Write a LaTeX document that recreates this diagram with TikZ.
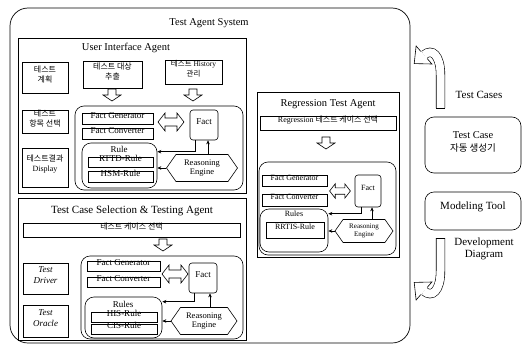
\documentclass[tikz,border=0pt]{standalone}
\usepackage{fontspec}
\setmainfont{Liberation Serif}
\newfontfamily\kr{Noto Sans CJK KR}
\usetikzlibrary{fit,shapes.symbols,arrows.meta}
\begin{document}
\begin{tikzpicture}[x=1pt,y=-1pt,
  bx/.style={draw, line width=0.6pt, inner sep=0pt, align=center, font=\fontsize{9}{10}\selectfont},
  kbx/.style={bx, font=\kr\fontsize{8}{10}\selectfont},
  rbx/.style={bx, rounded corners=9pt},
  ttl/.style={font=\fontsize{10.5}{12}\selectfont},
  sub/.style={font=\fontsize{9}{10}\selectfont},
  hexa/.style={draw, line width=0.6pt, signal, signal to=east and west, signal pointer angle=110, inner sep=0pt, align=center, font=\fontsize{8.5}{9.5}\selectfont},
  con/.style={line width=0.6pt, -{Stealth[length=4pt,width=3.5pt]}},
  blkdown/.pic={\draw[line width=0.6pt, fill=white] (-4,0) -- (-4,6) -- (-9,6) -- (0,12) -- (9,6) -- (4,6) -- (4,0) -- cycle;},
  blkdouble/.pic={\draw[line width=0.6pt, fill=white] (-13,0) -- (-6,-9) -- (-6,-4) -- (6,-4) -- (6,-9) -- (13,0) -- (6,9) -- (6,4) -- (-6,4) -- (-6,9) -- cycle;},
  side/.style={font=\fontsize{11}{12.5}\selectfont, align=center},
]
\useasboundingbox (0,0) rectangle (522,348);

% outer system
\node[draw, line width=0.7pt, rounded corners=18pt, inner sep=0pt, fit={(10,8)(410,343)}] (sys) {};
\node[font=\fontsize{10.5}{12}\selectfont] (syst) at (209,23) {Test Agent System};

% ---------------- User Interface Agent
\node[bx, fit={(18,38)(246,193)}] (ui) {};
\node[ttl] (uit) at (126,48) {User Interface Agent};
\node[kbx, fit={(22,62)(68,93)}] (plan) {테스트\\계획};
\node[kbx, fit={(83,61)(142,88)}] (target) {테스트 대상\\추출};
\node[bx, fit={(165,60)(222,84)}, font=\fontsize{7.5}{10}\selectfont] (hist) {{\kr 테스트} History\\{\kr 관리}};
\node[kbx, fit={(22,110)(68,133)}] (item) {테스트\\항목 선택};
\node[bx, fit={(22,148)(68,187)}, font=\fontsize{8}{10}\selectfont] (result) {{\kr 테스트결과}\\Display};
\pic at (112,89) {blkdown};
\pic at (193,89) {blkdown};
\node[rbx, fit={(75,106)(243,190)}] (kb1) {};
\node[bx, fit={(82,113)(153,124)}] (fg1) {Fact Generator};
\node[bx, fit={(82,128)(153,139)}] (fc1) {Fact Converter};
\pic at (171,122) {blkdouble};
\node[bx, rounded corners=3pt, fit={(190,110)(218,140)}] (fact1) {Fact};
\node[rbx, fit={(82,143)(157,188)}] (rule1) {};
\node[sub] (rule1t) at (119,149) {Rule};
\node[bx, fit={(88,157)(153,167)}] (rttd) {RTTD-Rule};
\node[bx, fit={(88,171)(153,182)}] (hsm) {HSM-Rule};
\node[hexa, minimum width=71pt, minimum height=27pt] (hex1) at (202,168) {Reasoning\\Engine};
\draw[con] ([xshift=6pt]fact1.south west) |- ([yshift=-9pt]rule1.north east);
\draw[con] ([xshift=6pt]hex1.north) -- ([xshift=6pt]hex1.north |- fact1.south);
\draw[con] (hex1.west) -- (hex1.west -| rule1.east);

% ---------------- Test Case Selection & Testing Agent
\node[bx, fit={(18,198)(246,340)}] (tcs) {};
\node[font=\fontsize{11}{12}\selectfont] (tcst) at (132,211) {Test Case Selection \& Testing Agent};
\node[kbx, fit={(23,223)(240,237)}] (sel) {테스트 케이스 선택};
\pic at (163,239) {blkdown};
\node[bx, fit={(23,263)(68,294)}, font=\itshape\fontsize{9}{11}\selectfont] (driver) {Test\\Driver};
\node[bx, fit={(23,305)(68,337)}, font=\itshape\fontsize{9}{11}\selectfont] (oracle) {Test\\Oracle};
\node[rbx, fit={(81,256)(243,339)}] (kb2) {};
\node[bx, fit={(87,261)(160,271)}] (fg2) {Fact Generator};
\node[bx, fit={(87,277)(160,287)}] (fc2) {Fact Converter};
\pic at (175,274) {blkdouble};
\node[bx, rounded corners=3pt, fit={(189,263)(217,293)}] (fact2) {Fact};
\node[rbx, fit={(85,297)(162,338)}] (rule2) {};
\node[sub] (rule2t) at (123,304) {Rules};
\node[bx, fit={(91,312)(157,322)}] (his) {HIS-Rule};
\node[bx, fit={(91,324)(157,334)}] (cis) {CIS-Rule};
\node[hexa, minimum width=66pt, minimum height=27pt] (hex2) at (204,321) {Reasoning\\Engine};
\draw[con] ([xshift=6pt]fact2.south west) |- ([yshift=-5pt]rule2.north east);
\draw[con] ([xshift=6pt]hex2.north) -- ([xshift=6pt]hex2.north |- fact2.south);
\draw[con] (hex2.west) -- (hex2.west -| rule2.east);

% ---------------- Regression Test Agent
\node[bx, fit={(257,92)(399,257)}] (rta) {};
\node[ttl] (rtat) at (328,104) {Regression Test Agent};
\node[bx, fit={(260,116)(396,130)}, font=\fontsize{8}{10}\selectfont] (regsel) {Regression {\kr 테스트 케이스 선택}};
\pic at (326,137) {blkdown};
\node[rbx, fit={(259,162)(396,255)}] (kb3) {};
\node[bx, fit={(262,175)(327,186)}, font=\fontsize{8}{9}\selectfont] (fg3) {Fact Generator};
\node[bx, fit={(262,194)(327,206)}, font=\fontsize{8}{9}\selectfont] (fc3) {Fact Converter};
\pic[scale=0.8] at (340,191) {blkdouble};
\node[bx, rounded corners=3pt, fit={(355,175)(381,207)}, font=\fontsize{8}{9}\selectfont] (fact3) {Fact};
\node[rbx, fit={(260,209)(328,252)}] (rule3) {};
\node[sub, font=\fontsize{8}{9}\selectfont] (rule3t) at (294,214) {Rules};
\node[bx, fit={(266,222)(324,238)}, font=\fontsize{8}{9}\selectfont] (rrtis) {RRTIS-Rule};
\node[hexa, minimum width=58pt, minimum height=23pt, font=\fontsize{7}{8}\selectfont] (hex3) at (364,231) {Reasoning\\Engine};
\draw[con] ([xshift=7pt]fact3.south west) |- ([yshift=-5pt]rule3.north east);
\draw[con] ([xshift=8pt]hex3.north) -- ([xshift=8pt]hex3.north |- fact3.south);
\draw[con] (hex3.west) -- (hex3.west -| rule3.east);

% ---------------- right side
\node[bx, rounded corners=9pt, fit={(425,117)(521,173)}, font=\fontsize{10.5}{13}\selectfont] (gen) {Test Case\\{\kr\fontsize{9.5}{13}\selectfont 자동 생성기}};
\node[bx, rounded corners=9pt, fit={(425,192)(521,230)}, font=\fontsize{11}{12}\selectfont] (model) {Modeling Tool};
\node[side] (tclab) at (479,95) {Test Cases};
\node[side] (ddlab) at (484,249) {Development\\Diagram};

% curved block arrow up (Test Cases)
\draw[line width=0.6pt, double, double distance=8pt] (440.5,108) -- (440.5,75) .. controls (440.5,55) and (432,48) .. (424,55);
\draw[line width=0.6pt] (436.2,108) -- (444.8,108);
\draw[line width=0.6pt, fill=white] (427.2,58.6) -- (431.9,64) -- (414.2,63.6) -- (416.1,46) -- (420.8,51.4);
% curved block arrow down (Development Diagram)
\draw[line width=0.6pt, double, double distance=8pt] (440.5,238) -- (440.5,271) .. controls (440.5,291) and (432,298) .. (424,291);
\draw[line width=0.6pt] (436.2,238) -- (444.8,238);
\draw[line width=0.6pt, fill=white] (427.2,287.4) -- (431.9,282) -- (414.2,282.4) -- (416.1,300) -- (420.8,294.6);
\end{tikzpicture}
\end{document}
